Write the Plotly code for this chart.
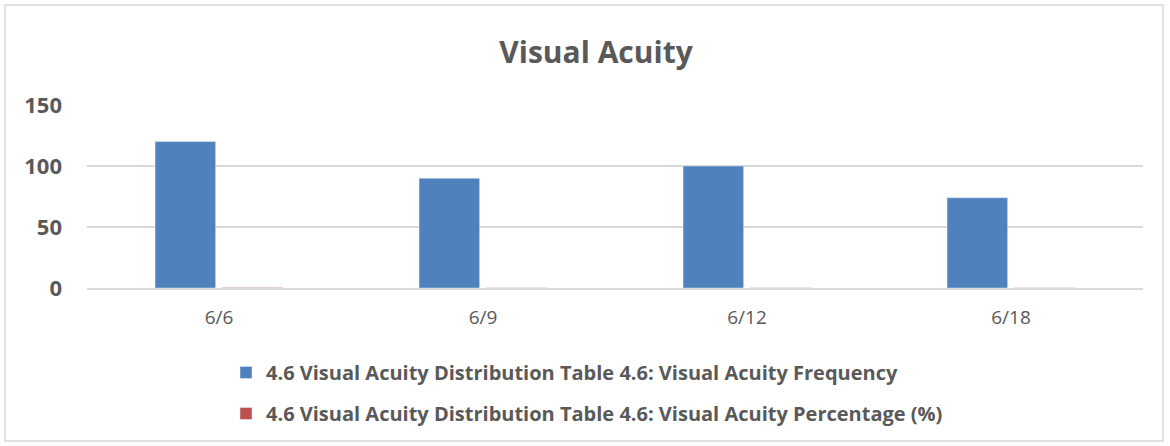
import plotly.graph_objects as go

# Visual acuity categories and series
categories = ["6/6", "6/9", "6/12", "6/18"]
frequency = [120, 90, 100, 74]
percentage = [0.31, 0.23, 0.26, 0.19]
y_ticks = [0, 50, 100, 150]

W, H = 1170, 446
L, R, T, B = 87, 27, 105, 158
plot_w = W - L - R
plot_h = H - T - B

TEXT = "#595959"
FONT = "Open Sans"

fig = go.Figure()
fig.add_trace(go.Bar(
    x=categories, y=frequency,
    name="4.6 Visual Acuity Distribution Table 4.6: Visual Acuity Frequency",
    marker=dict(color="#4f81bd"), legendgroup="a",
))
fig.add_trace(go.Bar(
    x=categories, y=percentage,
    name="4.6 Visual Acuity Distribution Table 4.6: Visual Acuity Percentage (%)",
    marker=dict(color="#c0504d"), legendgroup="b",
))


def px_x(px):
    return (px - L) / plot_w


def px_y(py):
    return (H - B - py) / plot_h


fig.update_layout(
    width=W, height=H,
    margin=dict(l=L, r=R, t=T, b=B),
    paper_bgcolor="white", plot_bgcolor="white",
    barmode="group", bargap=0.49, bargroupgap=0.1,
    title=dict(text="Visual Acuity", x=596 / W, xanchor="center",
               y=1 - 52 / H, yanchor="middle",
               font=dict(family=FONT, size=30, color=TEXT, weight="bold")),
    xaxis=dict(showgrid=False, showline=True, linecolor="#d9d9d9", linewidth=1.5,
               ticks="", ticklabelstandoff=11,
               tickfont=dict(family=FONT, size=19, color=TEXT)),
    yaxis=dict(range=[0, 150], tickvals=y_ticks, showgrid=True,
               gridcolor="#d9d9d9", gridwidth=1.5, zeroline=False,
               showline=False, ticks="", ticklabelstandoff=24,
               tickfont=dict(family=FONT, size=22, color=TEXT, weight="bold")),
    legend=dict(orientation="v", x=px_x(226), xanchor="left",
                y=px_y(353), yanchor="top", tracegroupgap=12,
                font=dict(family=FONT, size=20, color=TEXT, weight="bold"),
                itemwidth=30),
    showlegend=True,
    shapes=[dict(type="rect", xref="paper", yref="paper",
                 x0=px_x(5), x1=px_x(1163), y0=px_y(441), y1=px_y(5),
                 line=dict(color="#d9d9d9", width=1.5), layer="below")],
)

fig.write_html("out.html")
